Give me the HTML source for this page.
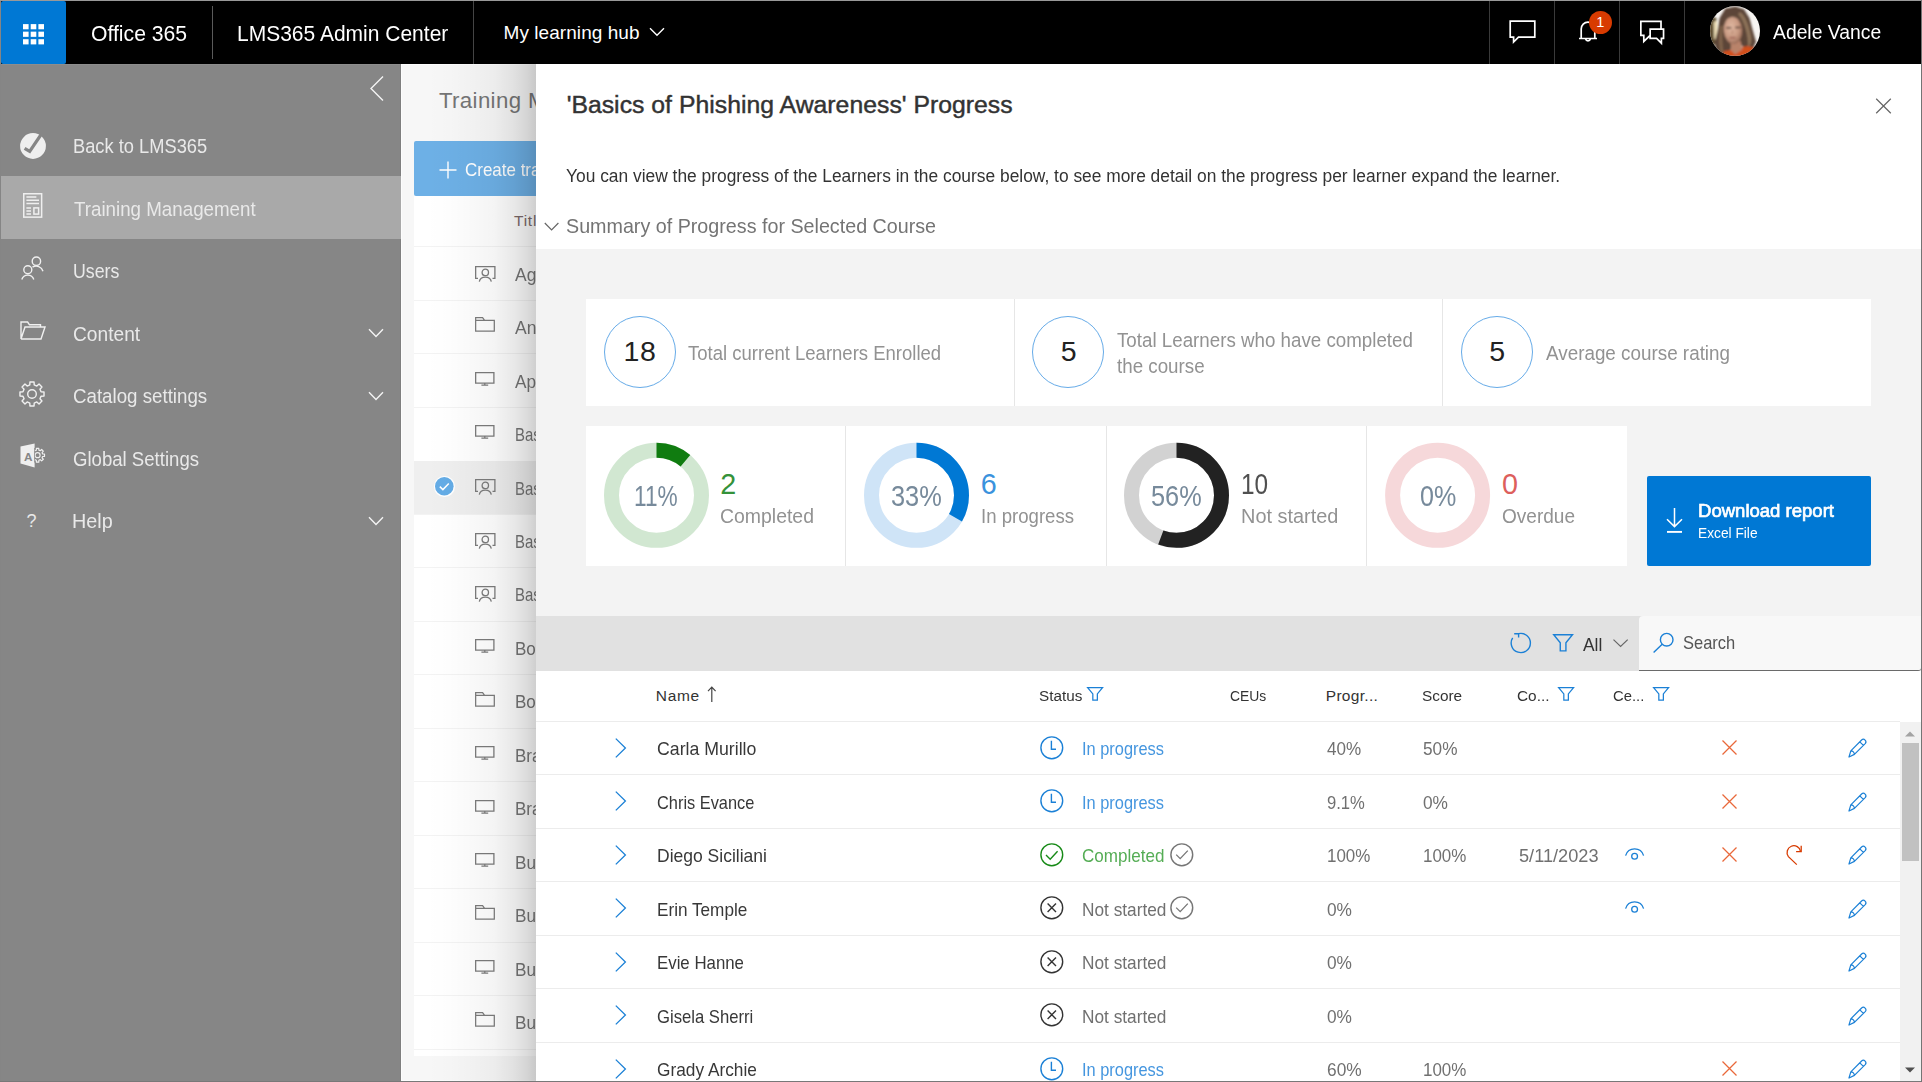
<!DOCTYPE html>
<html lang="en"><head><meta charset="utf-8"><title>LMS365 Admin Center - Course Progress</title>
<style>
html,body{margin:0;padding:0}
body{width:1922px;height:1082px;position:relative;overflow:hidden;background:#8a8a8a;font-family:"Liberation Sans",sans-serif;}
.t{position:absolute;white-space:nowrap;line-height:1;transform-origin:0 0;}
.grp{position:absolute;left:0;top:0;}
svg{overflow:visible}

</style></head>
<body>
<div style="position:absolute;left:0px;top:0px;width:1922px;height:1px;background:#999;"></div>
<div style="position:absolute;left:0px;top:1081px;width:1922px;height:1px;background:#787878;"></div>
<div style="position:absolute;left:1921px;top:0px;width:1px;height:1082px;background:#747474;"></div>
<div style="position:absolute;left:0px;top:1px;width:1px;height:1080px;background:#858585;"></div>
<header class="grp" style="z-index:10">
<div style="position:absolute;left:1px;top:1px;width:1920px;height:63px;background:#000;"></div>
<div style="position:absolute;left:1px;top:1px;width:65px;height:63px;background:#0078d4;border-radius:2px;"></div>
<svg style="position:absolute;left:0px;top:0px;" width="66" height="64" viewBox="0 0 66 64" fill="none"><rect x="23.00" y="24.10" width="5.6" height="5.2" fill="#fff"/><rect x="23.00" y="31.65" width="5.6" height="5.2" fill="#fff"/><rect x="23.00" y="39.20" width="5.6" height="5.2" fill="#fff"/><rect x="30.70" y="24.10" width="5.6" height="5.2" fill="#fff"/><rect x="30.70" y="31.65" width="5.6" height="5.2" fill="#fff"/><rect x="30.70" y="39.20" width="5.6" height="5.2" fill="#fff"/><rect x="38.40" y="24.10" width="5.6" height="5.2" fill="#fff"/><rect x="38.40" y="31.65" width="5.6" height="5.2" fill="#fff"/><rect x="38.40" y="39.20" width="5.6" height="5.2" fill="#fff"/></svg>
<span class="t" style="left:90.63px;top:23.00px;font-size:21.75px;color:#fff;transform:scaleX(0.9732);">Office 365</span>
<div style="position:absolute;left:212px;top:6px;width:1px;height:53px;background:#5a5a5a;"></div>
<span class="t" style="left:237.01px;top:23.00px;font-size:21.75px;color:#fff;transform:scaleX(0.9656);">LMS365 Admin Center</span>
<div style="position:absolute;left:473px;top:1px;width:1px;height:63px;background:#444;"></div>
<span class="t" style="left:503.50px;top:23.00px;font-size:19.0px;color:#fff;letter-spacing:0.061px;">My learning hub</span>
<svg style="position:absolute;left:648.8px;top:26px;" width="16" height="12" viewBox="0 0 16 12" fill="none"><path d="M1 2.3 L8 9.3 L15 2.3" stroke="#fff" stroke-width="1.4"/></svg>
<div style="position:absolute;left:1489px;top:1px;width:1px;height:63px;background:#3a3a3a;"></div>
<div style="position:absolute;left:1554px;top:1px;width:1px;height:63px;background:#3a3a3a;"></div>
<div style="position:absolute;left:1619px;top:1px;width:1px;height:63px;background:#3a3a3a;"></div>
<div style="position:absolute;left:1684px;top:1px;width:1px;height:63px;background:#3a3a3a;"></div>
<svg style="position:absolute;left:1509px;top:20px;" width="27" height="24" viewBox="0 0 27 24" fill="none"><path d="M1.2 1.2 H25.8 V17.2 H9.5 L4.6 22 V17.2 H1.2 Z" stroke="#fff" stroke-width="1.7" stroke-linejoin="miter"/></svg>
<svg style="position:absolute;left:1577px;top:19px;" width="22" height="25" viewBox="0 0 22 25" fill="none"><path d="M2 19.5 H20 M4.2 19.5 V10 a6.8 6.8 0 0 1 13.6 0 V19.5 M8.6 20 a2.5 2.5 0 0 0 4.8 0" stroke="#fff" stroke-width="1.7"/></svg>
<div style="position:absolute;left:1588.5px;top:11px;width:23px;height:23px;border-radius:50%;background:#d83b01"></div>
<span class="t" style="left:1596.30px;top:15.00px;font-size:14.5px;color:#fff;">1</span>
<svg style="position:absolute;left:1639px;top:20px;" width="28" height="24" viewBox="0 0 28 24" fill="none"><path d="M22 8.6 V1.35 H1.85 V15.3 H4.8 V21.4 L10.6 15.8 M11.15 9.15 H24.55 V18.35 H22.4 V23.2 L17.6 18.35 H11.15 Z" stroke="#fff" stroke-width="1.7"/></svg>
<svg style="position:absolute;left:1710.1px;top:6px;" width="50" height="50" viewBox="0 0 50 50" fill="none"><defs><clipPath id="avc"><circle cx="25" cy="25" r="25"/></clipPath><filter id="avb" x="-10%" y="-10%" width="120%" height="120%"><feGaussianBlur stdDeviation="1.0"/></filter><radialGradient id="avf" cx="42%" cy="38%" r="62%"><stop offset="0" stop-color="#e0b8a2"/><stop offset="0.65" stop-color="#c99a82"/><stop offset="1" stop-color="#9c6e5a"/></radialGradient></defs><g clip-path="url(#avc)"><rect width="50" height="50" fill="#f7f5f2"/><g filter="url(#avb)"><path d="M-1 10 L6.5 12 L7 38 L-1 40Z" fill="#5f5030"/><path d="M3.6 16 L7 14.5 L7.6 35 L4.2 33Z" fill="#e9dab2"/><path d="M15.3 2.4 L25.3 0.4 L34 3.3 L39.4 12 L42.6 23.8 L46 35.7 L43.1 42.4 L36 42.6 L31.2 39.2 L21 42 L19 50 L9 50 L5.4 42 L4.8 35.7 L7.8 23.8 L9.6 12Z" fill="#5b4537"/><path d="M30 6 C36 10 39 20 41 30 C42 36 40.5 40 38 41 C38.5 30 34 14 28 8Z" fill="#8d7259"/><path d="M10 20 C9 30 8.4 38 10.4 46 L13.6 47 C12 38 12 28 13 20Z" fill="#80634b"/><path d="M14 45 L22 44 L30 41.6 L38 40 L45 42 L41 51 L12 51Z" fill="#d1501f"/><path d="M20.5 35 L30.6 35 L32.4 43.4 L25 48.6 L21 44Z" fill="#b9836b"/><ellipse cx="23" cy="24.4" rx="9.2" ry="13.8" fill="url(#avf)" transform="rotate(-4 23 24.4)"/><path d="M13 18 C13.5 8.6 22 7 28 9.6 C31 11.6 33 15.6 33.4 21.4 C31 14.6 27 11 23 11 C18 11 15 13.4 13 18Z" fill="#614a3b"/><path d="M16.2 21.8 h5.2 M25.2 21.5 h5.2" stroke="#4e382e" stroke-width="1.5"/><path d="M19.6 31.6 h5.8" stroke="#95544c" stroke-width="1.4"/><path d="M22.6 24 L22 28.2" stroke="#b07f6a" stroke-width="1"/></g></g></svg>
<span class="t" style="left:1772.90px;top:22.00px;font-size:20.5px;color:#fff;transform:scaleX(0.9424);">Adele Vance</span>
</header>
<nav class="grp">
<div style="position:absolute;left:1px;top:64px;width:400px;height:1017px;background:#868686;"></div>
<div style="position:absolute;left:1px;top:64px;width:400px;height:1px;background:#8d8d8d;"></div>
<div style="position:absolute;left:400px;top:64px;width:1px;height:1017px;background:#7f7f7f;"></div>
<div style="position:absolute;left:1px;top:176px;width:400px;height:63px;background:#a9a9a9;"></div>
<svg style="position:absolute;left:369px;top:75px;" width="16" height="27" viewBox="0 0 16 27" fill="none"><path d="M14 1.5 L2 13.5 L14 25.5" stroke="#f4f4f4" stroke-width="1.4"/></svg>
<span class="t" style="left:72.54px;top:136.00px;font-size:20.5px;color:#e9e9e9;transform:scaleX(0.8920);">Back to LMS365</span>
<span class="t" style="left:73.64px;top:199.00px;font-size:20.5px;color:#e9e9e9;transform:scaleX(0.9146);">Training Management</span>
<span class="t" style="left:72.80px;top:261.00px;font-size:20.5px;color:#e9e9e9;transform:scaleX(0.8663);">Users</span>
<span class="t" style="left:73.17px;top:324.00px;font-size:20.5px;color:#e9e9e9;transform:scaleX(0.9348);">Content</span>
<span class="t" style="left:73.19px;top:386.00px;font-size:20.5px;color:#e9e9e9;transform:scaleX(0.9129);">Catalog settings</span>
<span class="t" style="left:73.19px;top:449.00px;font-size:20.5px;color:#e9e9e9;transform:scaleX(0.9064);">Global Settings</span>
<span class="t" style="left:72.41px;top:511.00px;font-size:20.5px;color:#e9e9e9;transform:scaleX(0.9646);">Help</span>
<svg style="position:absolute;left:367.5px;top:327.7px;" width="16" height="10" viewBox="0 0 16 10" fill="none"><path d="M1 1.2 L8 8.4 L15 1.2" stroke="#f4f4f4" stroke-width="1.4"/></svg>
<svg style="position:absolute;left:367.5px;top:390.5px;" width="16" height="10" viewBox="0 0 16 10" fill="none"><path d="M1 1.2 L8 8.4 L15 1.2" stroke="#f4f4f4" stroke-width="1.4"/></svg>
<svg style="position:absolute;left:367.5px;top:515.8px;" width="16" height="10" viewBox="0 0 16 10" fill="none"><path d="M1 1.2 L8 8.4 L15 1.2" stroke="#f4f4f4" stroke-width="1.4"/></svg>
<svg style="position:absolute;left:19.5px;top:133px;" width="26" height="26" viewBox="0 0 26 26" fill="none"><circle cx="13" cy="13" r="12.9" fill="#efefef"/><path d="M4.6 15.4 L9.7 18.4 L21.2 1.4" stroke="#868686" stroke-width="3.3" stroke-linejoin="miter"/></svg>
<svg style="position:absolute;left:22.7px;top:193.2px;" width="19.4" height="24.9" viewBox="0 0 19.4 24.9" fill="none"><rect x="0.75" y="0.75" width="17.9" height="23.4" stroke="#efefef" stroke-width="1.5"/><path d="M3.4 3.9H13.4M3.4 7.2H16M3.4 10.5H16M3.4 14.9H8M3.4 18H8M3.4 21H8" stroke="#efefef" stroke-width="1.5"/><rect x="10.9" y="14.9" width="4.7" height="6.2" stroke="#efefef" stroke-width="1.5"/></svg>
<svg style="position:absolute;left:21px;top:256px;" width="23" height="24" viewBox="0 0 23 24" fill="none"><circle cx="15.4" cy="5.2" r="4.2" stroke="#f0f0f0" stroke-width="1.4"/><circle cx="6.8" cy="13.8" r="4" stroke="#f0f0f0" stroke-width="1.4"/><path d="M0.8 23.5 a6.3 6.3 0 0 1 12 0 M11.5 11.2 a7 7 0 0 1 10.5 4" stroke="#f0f0f0" stroke-width="1.4"/></svg>
<svg style="position:absolute;left:19.5px;top:321px;" width="26" height="19" viewBox="0 0 26 19" fill="none"><path d="M20.5 6 V3.8 H9.5 L7.6 1 H1 V18 L5 6 H25 L21 18 H1" stroke="#f0f0f0" stroke-width="1.4" stroke-linejoin="miter"/></svg>
<svg style="position:absolute;left:19.4px;top:380.5px;" width="26" height="26" viewBox="0 0 26 26" fill="none"><path d="M10.94 0.98 L15.06 0.98 L15.21 3.97 L17.82 5.05 L20.04 3.04 L22.96 5.96 L20.95 8.18 L22.03 10.79 L25.02 10.94 L25.02 15.06 L22.03 15.21 L20.95 17.82 L22.96 20.04 L20.04 22.96 L17.82 20.95 L15.21 22.03 L15.06 25.02 L10.94 25.02 L10.79 22.03 L8.18 20.95 L5.96 22.96 L3.04 20.04 L5.05 17.82 L3.97 15.21 L0.98 15.06 L0.98 10.94 L3.97 10.79 L5.05 8.18 L3.04 5.96 L5.96 3.04 L8.18 5.05 L10.79 3.97Z" stroke="#f0f0f0" stroke-width="1.4" stroke-linejoin="round"/><circle cx="13" cy="13" r="4.3" stroke="#f0f0f0" stroke-width="1.4"/></svg>
<svg style="position:absolute;left:20px;top:443px;" width="26" height="25" viewBox="0 0 26 25" fill="none"><path d="M16.42 5.30 L18.78 5.30 L18.89 7.16 L20.25 7.73 L21.64 6.48 L23.32 8.16 L22.07 9.55 L22.64 10.91 L24.50 11.02 L24.50 13.38 L22.64 13.49 L22.07 14.85 L23.32 16.24 L21.64 17.92 L20.25 16.67 L18.89 17.24 L18.78 19.10 L16.42 19.10 L16.31 17.24 L14.95 16.67 L13.56 17.92 L11.88 16.24 L13.13 14.85 L12.56 13.49 L10.70 13.38 L10.70 11.02 L12.56 10.91 L13.13 9.55 L11.88 8.16 L13.56 6.48 L14.95 7.73 L16.31 7.16Z" stroke="#efefef" stroke-width="1.2" stroke-linejoin="round"/><circle cx="17.6" cy="12.2" r="2.5" stroke="#efefef" stroke-width="1.2"/><path d="M0.5 3.6 L14.6 0.4 V24.6 L0.5 20.6Z" fill="#efefef"/><path d="M14.6 5 V19.5" stroke="#868686" stroke-width="0.8"/></svg>
<span class="t" style="left:23.95px;top:451.00px;font-size:11.75px;color:#868686;font-weight:700;">A</span>
<span class="t" style="left:26.45px;top:512.00px;font-size:18.0px;color:#e9e9e9;">?</span>
</nav>
<section class="grp">
<div style="position:absolute;left:401px;top:64px;width:159px;height:1017px;background:#f7f7f7;"></div>
<div style="position:absolute;left:401px;top:64px;width:1px;height:1017px;background:#fdfdfd;"></div>
<div style="position:absolute;left:401px;top:64px;width:159px;height:1px;background:#fdfdfd;"></div>
<div style="position:absolute;left:401px;top:1080px;width:159px;height:1px;background:#fdfdfd;"></div>
<span class="t" style="left:439.00px;top:90.00px;font-size:22.25px;color:#757575;letter-spacing:0.350px;">Training Management</span>
<div style="position:absolute;left:414px;top:141px;width:486px;height:55px;background:#6db0e6;border-radius:2px;"></div>
<svg style="position:absolute;left:439px;top:161px;" width="18" height="18" viewBox="0 0 18 18" fill="none"><path d="M9 0.5 V17.5 M0.5 9 H17.5" stroke="#fff" stroke-width="1.4"/></svg>
<span class="t" style="left:465.18px;top:161.00px;font-size:18.5px;color:#fff;transform:scaleX(0.9172);">Create training</span>
<div style="position:absolute;left:414px;top:196px;width:486px;height:860px;background:#fff;"></div>
<span class="t" style="left:514.05px;top:213.00px;font-size:15.5px;color:#7c6a6a;letter-spacing:0.733px;">Title</span>
<div style="position:absolute;left:414px;top:246.0px;width:486px;height:1.0px;background:#f3f3f3;"></div>
<svg style="position:absolute;left:474.5px;top:265.5px;" width="21" height="16" viewBox="0 0 21 16" fill="none"><path d="M3 12.3 H0.65 V0.65 H19.9 V12.3 H17.5" stroke="#7c7c7c" stroke-width="1.3"/><circle cx="10.3" cy="6.4" r="3.2" stroke="#7c7c7c" stroke-width="1.3"/><path d="M4.3 15.6 A6.1 5.4 0 0 1 16.3 15.6" stroke="#7c7c7c" stroke-width="1.3"/></svg>
<span class="t" style="left:514.80px;top:266.00px;font-size:18.25px;color:#767676;transform:scaleX(0.9553);">Agile Project Management</span>
<div style="position:absolute;left:414px;top:299.5px;width:486px;height:1.0px;background:#f3f3f3;"></div>
<svg style="position:absolute;left:474.5px;top:317.34999999999997px;" width="21" height="15" viewBox="0 0 21 15" fill="none"><path d="M0.65 14 V0.65 H7.6 L9.6 3.3 H19.3 V14 Z M0.65 3.3 H9.6" stroke="#7c7c7c" stroke-width="1.25" stroke-linejoin="miter"/></svg>
<span class="t" style="left:514.80px;top:319.00px;font-size:18.25px;color:#767676;transform:scaleX(0.9600);">Annual Compliance</span>
<div style="position:absolute;left:414px;top:353.0px;width:486px;height:1.0px;background:#f3f3f3;"></div>
<svg style="position:absolute;left:474.5px;top:371.99999999999994px;" width="20" height="14" viewBox="0 0 20 14" fill="none"><path d="M0.65 0.65 H18.9 V11.2 H0.65 Z M9.8 11.2 V13 M6.4 13.2 H13.2" stroke="#7c7c7c" stroke-width="1.3"/></svg>
<span class="t" style="left:514.80px;top:373.00px;font-size:18.25px;color:#767676;transform:scaleX(0.9425);">Application Security</span>
<div style="position:absolute;left:414px;top:406.5px;width:486px;height:1.0px;background:#f3f3f3;"></div>
<svg style="position:absolute;left:474.5px;top:425.45px;" width="20" height="14" viewBox="0 0 20 14" fill="none"><path d="M0.65 0.65 H18.9 V11.2 H0.65 Z M9.8 11.2 V13 M6.4 13.2 H13.2" stroke="#7c7c7c" stroke-width="1.3"/></svg>
<span class="t" style="left:514.77px;top:426.00px;font-size:18.25px;color:#767676;transform:scaleX(0.8190);">Basic Data Privacy</span>
<div style="position:absolute;left:414px;top:460.5px;width:486px;height:54.0px;background:#efefef;"></div>
<svg style="position:absolute;left:474.5px;top:479.3px;" width="21" height="16" viewBox="0 0 21 16" fill="none"><path d="M3 12.3 H0.65 V0.65 H19.9 V12.3 H17.5" stroke="#7c7c7c" stroke-width="1.3"/><circle cx="10.3" cy="6.4" r="3.2" stroke="#7c7c7c" stroke-width="1.3"/><path d="M4.3 15.6 A6.1 5.4 0 0 1 16.3 15.6" stroke="#7c7c7c" stroke-width="1.3"/></svg>
<span class="t" style="left:514.77px;top:480.00px;font-size:18.25px;color:#767676;transform:scaleX(0.8190);">Basics of Phishing Awareness</span>
<div style="position:absolute;left:414px;top:513.5px;width:486px;height:1.0px;background:#f3f3f3;"></div>
<svg style="position:absolute;left:474.5px;top:532.75px;" width="21" height="16" viewBox="0 0 21 16" fill="none"><path d="M3 12.3 H0.65 V0.65 H19.9 V12.3 H17.5" stroke="#7c7c7c" stroke-width="1.3"/><circle cx="10.3" cy="6.4" r="3.2" stroke="#7c7c7c" stroke-width="1.3"/><path d="M4.3 15.6 A6.1 5.4 0 0 1 16.3 15.6" stroke="#7c7c7c" stroke-width="1.3"/></svg>
<span class="t" style="left:514.77px;top:533.00px;font-size:18.25px;color:#767676;transform:scaleX(0.8190);">Basics of Phishing (ILT)</span>
<div style="position:absolute;left:414px;top:567.0px;width:486px;height:1.0px;background:#f3f3f3;"></div>
<svg style="position:absolute;left:474.5px;top:586.2px;" width="21" height="16" viewBox="0 0 21 16" fill="none"><path d="M3 12.3 H0.65 V0.65 H19.9 V12.3 H17.5" stroke="#7c7c7c" stroke-width="1.3"/><circle cx="10.3" cy="6.4" r="3.2" stroke="#7c7c7c" stroke-width="1.3"/><path d="M4.3 15.6 A6.1 5.4 0 0 1 16.3 15.6" stroke="#7c7c7c" stroke-width="1.3"/></svg>
<span class="t" style="left:514.77px;top:586.00px;font-size:18.25px;color:#767676;transform:scaleX(0.8190);">Basics of Workshop</span>
<div style="position:absolute;left:414px;top:620.5px;width:486px;height:1.0px;background:#f3f3f3;"></div>
<svg style="position:absolute;left:474.5px;top:639.25px;" width="20" height="14" viewBox="0 0 20 14" fill="none"><path d="M0.65 0.65 H18.9 V11.2 H0.65 Z M9.8 11.2 V13 M6.4 13.2 H13.2" stroke="#7c7c7c" stroke-width="1.3"/></svg>
<span class="t" style="left:514.60px;top:640.00px;font-size:18.25px;color:#767676;transform:scaleX(0.9333);">Bootcamp Essentials</span>
<div style="position:absolute;left:414px;top:674.0px;width:486px;height:1.0px;background:#f3f3f3;"></div>
<svg style="position:absolute;left:474.5px;top:691.5px;" width="21" height="15" viewBox="0 0 21 15" fill="none"><path d="M0.65 14 V0.65 H7.6 L9.6 3.3 H19.3 V14 Z M0.65 3.3 H9.6" stroke="#7c7c7c" stroke-width="1.25" stroke-linejoin="miter"/></svg>
<span class="t" style="left:514.60px;top:693.00px;font-size:18.25px;color:#767676;transform:scaleX(0.9333);">Bookkeeping Plan</span>
<div style="position:absolute;left:414px;top:727.5px;width:486px;height:1.0px;background:#f3f3f3;"></div>
<svg style="position:absolute;left:474.5px;top:746.1500000000001px;" width="20" height="14" viewBox="0 0 20 14" fill="none"><path d="M0.65 0.65 H18.9 V11.2 H0.65 Z M9.8 11.2 V13 M6.4 13.2 H13.2" stroke="#7c7c7c" stroke-width="1.3"/></svg>
<span class="t" style="left:514.60px;top:747.00px;font-size:18.25px;color:#767676;transform:scaleX(0.9333);">Brand Guidelines</span>
<div style="position:absolute;left:414px;top:781.0px;width:486px;height:1.0px;background:#f3f3f3;"></div>
<svg style="position:absolute;left:474.5px;top:799.6px;" width="20" height="14" viewBox="0 0 20 14" fill="none"><path d="M0.65 0.65 H18.9 V11.2 H0.65 Z M9.8 11.2 V13 M6.4 13.2 H13.2" stroke="#7c7c7c" stroke-width="1.3"/></svg>
<span class="t" style="left:514.60px;top:800.00px;font-size:18.25px;color:#767676;transform:scaleX(0.9333);">Brand Voice</span>
<div style="position:absolute;left:414px;top:834.5px;width:486px;height:1.0px;background:#f3f3f3;"></div>
<svg style="position:absolute;left:474.5px;top:853.0500000000001px;" width="20" height="14" viewBox="0 0 20 14" fill="none"><path d="M0.65 0.65 H18.9 V11.2 H0.65 Z M9.8 11.2 V13 M6.4 13.2 H13.2" stroke="#7c7c7c" stroke-width="1.3"/></svg>
<span class="t" style="left:514.59px;top:854.00px;font-size:18.25px;color:#767676;transform:scaleX(0.9418);">Business Ethics</span>
<div style="position:absolute;left:414px;top:888.0px;width:486px;height:1.0px;background:#f3f3f3;"></div>
<svg style="position:absolute;left:474.5px;top:905.3000000000001px;" width="21" height="15" viewBox="0 0 21 15" fill="none"><path d="M0.65 14 V0.65 H7.6 L9.6 3.3 H19.3 V14 Z M0.65 3.3 H9.6" stroke="#7c7c7c" stroke-width="1.25" stroke-linejoin="miter"/></svg>
<span class="t" style="left:514.59px;top:907.00px;font-size:18.25px;color:#767676;transform:scaleX(0.9418);">Business Plan</span>
<div style="position:absolute;left:414px;top:941.5px;width:486px;height:1.0px;background:#f3f3f3;"></div>
<svg style="position:absolute;left:474.5px;top:959.95px;" width="20" height="14" viewBox="0 0 20 14" fill="none"><path d="M0.65 0.65 H18.9 V11.2 H0.65 Z M9.8 11.2 V13 M6.4 13.2 H13.2" stroke="#7c7c7c" stroke-width="1.3"/></svg>
<span class="t" style="left:514.59px;top:961.00px;font-size:18.25px;color:#767676;transform:scaleX(0.9418);">Business Writing</span>
<div style="position:absolute;left:414px;top:995.0px;width:486px;height:1.0px;background:#f3f3f3;"></div>
<svg style="position:absolute;left:474.5px;top:1012.2px;" width="21" height="15" viewBox="0 0 21 15" fill="none"><path d="M0.65 14 V0.65 H7.6 L9.6 3.3 H19.3 V14 Z M0.65 3.3 H9.6" stroke="#7c7c7c" stroke-width="1.25" stroke-linejoin="miter"/></svg>
<span class="t" style="left:514.59px;top:1014.00px;font-size:18.25px;color:#767676;transform:scaleX(0.9418);">Business Onboarding</span>
<div style="position:absolute;left:414px;top:1048.8px;width:486px;height:1.0px;background:#f3f3f3;"></div>
<div style="position:absolute;left:434.1px;top:476.4px;width:20.6px;height:20.6px;border-radius:50%;background:#fff"></div>
<svg style="position:absolute;left:435.1px;top:477.4px;" width="18.6" height="18.6" viewBox="0 0 18.6 18.6" fill="none"><circle cx="9.3" cy="9.3" r="9.3" fill="#64ace6"/><path d="M4.8 9.6 L7.9 12.6 L13.8 6.4" stroke="#fff" stroke-width="1.5"/></svg>
</section>
<section class="grp">
<div style="position:absolute;left:426px;top:64px;width:110px;height:1017px;background:linear-gradient(to right,rgba(0,0,0,0) 0%,rgba(0,0,0,.008) 20%,rgba(0,0,0,.022) 42%,rgba(0,0,0,.045) 62%,rgba(0,0,0,.09) 80%,rgba(0,0,0,.14) 92%,rgba(0,0,0,.19) 100%)"></div>
<div style="position:absolute;left:536px;top:64px;width:1385px;height:1017px;background:#fff"></div>
<span class="t" style="left:566.65px;top:93.00px;font-size:24.75px;color:#333;letter-spacing:0.024px;-webkit-text-stroke:0.45px #333;">&#x27;Basics of Phishing Awareness&#x27; Progress</span>
<svg style="position:absolute;left:1875px;top:98px;" width="17" height="16" viewBox="0 0 17 16" fill="none"><path d="M1.2 0.8 L15.8 15.2 M15.8 0.8 L1.2 15.2" stroke="#666" stroke-width="1.2"/></svg>
<span class="t" style="left:566.30px;top:168.00px;font-size:17.5px;color:#333;transform:scaleX(0.9928);">You can view the progress of the Learners in the course below, to see more detail on the progress per learner expand the learner.</span>
<svg style="position:absolute;left:544px;top:222px;" width="16" height="10" viewBox="0 0 16 10" fill="none"><path d="M0.8 1 L7.6 8 L14.4 1" stroke="#666" stroke-width="1.2"/></svg>
<span class="t" style="left:565.86px;top:215.00px;font-size:21.0px;color:#747474;transform:scaleX(0.9381);">Summary of Progress for Selected Course</span>
<div style="position:absolute;left:536px;top:248.5px;width:1385px;height:368.5px;background:#f3f3f3;"></div>
<div style="position:absolute;left:586px;top:299px;width:1285px;height:107px;background:#fff;"></div>
<div style="position:absolute;left:1014px;top:299px;width:1px;height:107px;background:#e6e6e6;"></div>
<div style="position:absolute;left:1442px;top:299px;width:1px;height:107px;background:#e6e6e6;"></div>
<div style="position:absolute;left:604px;top:316px;width:72px;height:72px;box-sizing:border-box;border-radius:50%;border:1.4px solid #66abe8"></div>
<span class="t" style="left:623.45px;top:337.00px;font-size:28.5px;color:#222;letter-spacing:0.650px;">18</span>
<div style="position:absolute;left:1032px;top:316px;width:72px;height:72px;box-sizing:border-box;border-radius:50%;border:1.4px solid #66abe8"></div>
<span class="t" style="left:1060.65px;top:337.00px;font-size:28.5px;color:#222;">5</span>
<div style="position:absolute;left:1461px;top:316px;width:72px;height:72px;box-sizing:border-box;border-radius:50%;border:1.4px solid #66abe8"></div>
<span class="t" style="left:1489.25px;top:337.00px;font-size:28.5px;color:#222;">5</span>
<span class="t" style="left:688.05px;top:343.00px;font-size:20.5px;color:#929292;transform:scaleX(0.9031);">Total current Learners Enrolled</span>
<span class="t" style="left:1117.04px;top:330.00px;font-size:20.5px;color:#929292;transform:scaleX(0.9144);">Total Learners who have completed</span>
<span class="t" style="left:1117.27px;top:356.00px;font-size:20.5px;color:#929292;transform:scaleX(0.9153);">the course</span>
<span class="t" style="left:1545.80px;top:343.00px;font-size:20.5px;color:#929292;transform:scaleX(0.9192);">Average course rating</span>
<div style="position:absolute;left:586px;top:426px;width:1041px;height:140px;background:#fff;"></div>
<div style="position:absolute;left:845px;top:426px;width:1px;height:140px;background:#e6e6e6;"></div>
<div style="position:absolute;left:1106px;top:426px;width:1px;height:140px;background:#e6e6e6;"></div>
<div style="position:absolute;left:1366px;top:426px;width:1px;height:140px;background:#e6e6e6;"></div>
<svg style="position:absolute;left:0px;top:0px;" width="1922" height="1082" viewBox="0 0 1922 1082" fill="none"><circle cx="656.5" cy="495.3" r="45" stroke="#d1e7d1" stroke-width="15"/><circle cx="656.5" cy="495.3" r="45" stroke="#107c10" stroke-width="15" stroke-dasharray="31.38 282.74" transform="rotate(-90 656.5 495.3)"/><circle cx="916.5" cy="495.3" r="45" stroke="#cfe4f7" stroke-width="15"/><circle cx="916.5" cy="495.3" r="45" stroke="#0078d4" stroke-width="15" stroke-dasharray="94.15 282.74" transform="rotate(-90 916.5 495.3)"/><circle cx="1176.5" cy="495.3" r="45" stroke="#d2d2d2" stroke-width="15"/><circle cx="1176.5" cy="495.3" r="45" stroke="#222" stroke-width="15" stroke-dasharray="157.21 282.74" transform="rotate(-90 1176.5 495.3)"/><circle cx="1437.6" cy="495.3" r="45" stroke="#f6d8da" stroke-width="15"/></svg>
<span class="t" style="left:634.23px;top:482.00px;font-size:28.75px;color:#778a9b;transform:scaleX(0.7885);">11%</span>
<span class="t" style="left:891.12px;top:482.00px;font-size:28.75px;color:#778a9b;transform:scaleX(0.8829);">33%</span>
<span class="t" style="left:1151.30px;top:482.00px;font-size:28.75px;color:#778a9b;transform:scaleX(0.8796);">56%</span>
<span class="t" style="left:1419.63px;top:482.00px;font-size:28.75px;color:#778a9b;transform:scaleX(0.8734);">0%</span>
<span class="t" style="left:720.20px;top:470.00px;font-size:28.75px;color:#35923a;">2</span>
<span class="t" style="left:720.35px;top:506.00px;font-size:20.5px;color:#929292;transform:scaleX(0.9478);">Completed</span>
<span class="t" style="left:980.70px;top:470.00px;font-size:28.75px;color:#3a92dd;">6</span>
<span class="t" style="left:980.91px;top:506.00px;font-size:20.5px;color:#929292;transform:scaleX(0.9070);">In progress</span>
<span class="t" style="left:1241.09px;top:470.00px;font-size:28.75px;color:#505050;transform:scaleX(0.8487);">10</span>
<span class="t" style="left:1240.70px;top:506.00px;font-size:20.5px;color:#929292;transform:scaleX(0.9711);">Not started</span>
<span class="t" style="left:1502.00px;top:470.00px;font-size:28.75px;color:#dd5f5c;">0</span>
<span class="t" style="left:1502.07px;top:506.00px;font-size:20.5px;color:#929292;transform:scaleX(0.9290);">Overdue</span>
<div style="position:absolute;left:1647px;top:476px;width:224px;height:90px;background:#0078d4;border-radius:2px;"></div>
<svg style="position:absolute;left:1665px;top:507px;" width="19" height="28" viewBox="0 0 19 28" fill="none"><path d="M9.5 1 V19.2 M2 12.2 L9.5 19.6 L17 12.2" stroke="#fff" stroke-width="1.5"/><path d="M2 24.9 H17" stroke="#fff" stroke-width="1.9"/></svg>
<span class="t" style="left:1697.74px;top:501.00px;font-size:19.0px;color:#fff;transform:scaleX(0.9754);-webkit-text-stroke:0.7px #fff;">Download report</span>
<span class="t" style="left:1698.09px;top:525.00px;font-size:15.5px;color:#fff;transform:scaleX(0.8858);">Excel File</span>
<div style="position:absolute;left:536px;top:616px;width:1385px;height:54.5px;background:#e1e1e1;"></div>
<div style="position:absolute;left:1639px;top:616px;width:282px;height:54.60000000000002px;background:#f8f8f8;border-radius:4px 0 3px 0;border-bottom:1.4px solid #6a6a6a;box-sizing:border-box;"></div>
<svg style="position:absolute;left:0px;top:0px;" width="1922" height="1082" viewBox="0 0 1922 1082" fill="none"><path d="M1518.48 633.69 A9.6 9.6 0 1 1 1512.66 637.91" stroke="#1b80d6" stroke-width="1.4"/><path d="M1514.2 633.7 H1518.6 V637.6" stroke="#1b80d6" stroke-width="1.4"/></svg>
<svg style="position:absolute;left:1552.8px;top:634.3px;" width="20.2" height="17.6" viewBox="0 0 20.2 17.6" fill="none"><path d="M0.7 0.7 H19.5 L12.93 8.80 V16.900000000000002 H7.27 V8.80 Z" stroke="#1b80d6" stroke-width="1.4" stroke-linejoin="miter"/></svg>
<span class="t" style="left:1583.20px;top:635.00px;font-size:19.0px;color:#333;transform:scaleX(0.9150);">All</span>
<svg style="position:absolute;left:1612.5px;top:638.5px;" width="16" height="9" viewBox="0 0 16 9" fill="none"><path d="M0.5 0.6 L7.6 7.4 L14.7 0.6" stroke="#666" stroke-width="1.2"/></svg>
<svg style="position:absolute;left:1652px;top:632px;" width="22" height="22" viewBox="0 0 22 22" fill="none"><circle cx="14.7" cy="7.7" r="6.3" stroke="#1b80d6" stroke-width="1.4"/><path d="M10.2 12.2 L1.6 20.6" stroke="#1b80d6" stroke-width="1.4"/></svg>
<span class="t" style="left:1683.33px;top:634.00px;font-size:18.5px;color:#555;transform:scaleX(0.8920);">Search</span>
<span class="t" style="left:655.75px;top:688.00px;font-size:15.5px;color:#333;letter-spacing:0.700px;">Name</span>
<svg style="position:absolute;left:707px;top:686px;" width="10" height="17" viewBox="0 0 10 17" fill="none"><path d="M4.8 16 V1.4 M1 5.2 L4.8 1.2 L8.6 5.2" stroke="#444" stroke-width="1.2"/></svg>
<span class="t" style="left:1038.66px;top:688.00px;font-size:15.5px;color:#333;transform:scaleX(0.9848);">Status</span>
<svg style="position:absolute;left:1087.1px;top:687px;" width="16.2" height="13.8" viewBox="0 0 16.2 13.8" fill="none"><path d="M0.625 0.625 H15.575 L10.37 6.90 V13.175 H5.83 V6.90 Z" stroke="#1b80d6" stroke-width="1.25" stroke-linejoin="miter"/></svg>
<span class="t" style="left:1230.33px;top:688.00px;font-size:15.5px;color:#333;transform:scaleX(0.8968);">CEUs</span>
<span class="t" style="left:1325.75px;top:688.00px;font-size:15.5px;color:#333;letter-spacing:0.300px;">Progr...</span>
<span class="t" style="left:1421.76px;top:688.00px;font-size:15.5px;color:#333;transform:scaleX(0.9923);">Score</span>
<span class="t" style="left:1517.06px;top:688.00px;font-size:15.5px;color:#333;transform:scaleX(0.9919);">Co...</span>
<svg style="position:absolute;left:1557.6px;top:687px;" width="16.2" height="13.8" viewBox="0 0 16.2 13.8" fill="none"><path d="M0.625 0.625 H15.575 L10.37 6.90 V13.175 H5.83 V6.90 Z" stroke="#1b80d6" stroke-width="1.25" stroke-linejoin="miter"/></svg>
<span class="t" style="left:1612.78px;top:688.00px;font-size:15.5px;color:#333;transform:scaleX(0.9561);">Ce...</span>
<svg style="position:absolute;left:1653.2px;top:687px;" width="16.2" height="13.8" viewBox="0 0 16.2 13.8" fill="none"><path d="M0.625 0.625 H15.575 L10.37 6.90 V13.175 H5.83 V6.90 Z" stroke="#1b80d6" stroke-width="1.25" stroke-linejoin="miter"/></svg>
<div style="position:absolute;left:536px;top:720.5px;width:1364px;height:1.0px;background:#ececec;"></div>
<svg style="position:absolute;left:615.4px;top:737.7px;" width="12" height="20" viewBox="0 0 12 20" fill="none"><path d="M0.8 0.6 L10.4 10 L0.8 19.4" stroke="#1b80d6" stroke-width="1.3"/></svg>
<span class="t" style="left:657.04px;top:740.00px;font-size:18.5px;color:#383838;transform:scaleX(0.9569);">Carla Murillo</span>
<svg style="position:absolute;left:1039.7px;top:735.9000000000001px;" width="23.6" height="23.6" viewBox="0 0 23.6 23.6" fill="none"><circle cx="11.8" cy="11.8" r="10.9" stroke="#1b80d6" stroke-width="1.4"/><path d="M11.4 4.8 V13.2 H16" stroke="#1b80d6" stroke-width="1.4"/></svg>
<span class="t" style="left:1081.85px;top:740.00px;font-size:18.5px;color:#4596df;transform:scaleX(0.8856);">In progress</span>
<span class="t" style="left:1327.24px;top:740.00px;font-size:18.5px;color:#707070;transform:scaleX(0.9231);">40%</span>
<span class="t" style="left:1422.80px;top:740.00px;font-size:18.5px;color:#707070;transform:scaleX(0.9296);">50%</span>
<svg style="position:absolute;left:1722.2px;top:740.1px;" width="15" height="15" viewBox="0 0 15 15" fill="none"><path d="M0.5 0.5 L14.5 14.5 M14.5 0.5 L0.5 14.5" stroke="#e9683a" stroke-width="1.25"/></svg>
<svg style="position:absolute;left:1848px;top:738.1px;" width="20" height="20" viewBox="0 0 20 20" fill="none"><path d="M1 19 L2.8 12.8 L13.6 2 A2.55 2.55 0 0 1 17.2 5.6 L6.4 16.4 Z M2.8 12.8 A3.5 3.5 0 0 1 6.4 16.4 M11.8 3.8 L15.4 7.4" stroke="#1b80d6" stroke-width="1.2" stroke-linejoin="round"/></svg>
<div style="position:absolute;left:536px;top:774.0px;width:1364px;height:1.0px;background:#ececec;"></div>
<svg style="position:absolute;left:615.4px;top:791.2px;" width="12" height="20" viewBox="0 0 12 20" fill="none"><path d="M0.8 0.6 L10.4 10 L0.8 19.4" stroke="#1b80d6" stroke-width="1.3"/></svg>
<span class="t" style="left:657.12px;top:794.00px;font-size:18.5px;color:#383838;transform:scaleX(0.8850);">Chris Evance</span>
<svg style="position:absolute;left:1039.7px;top:789.4000000000001px;" width="23.6" height="23.6" viewBox="0 0 23.6 23.6" fill="none"><circle cx="11.8" cy="11.8" r="10.9" stroke="#1b80d6" stroke-width="1.4"/><path d="M11.4 4.8 V13.2 H16" stroke="#1b80d6" stroke-width="1.4"/></svg>
<span class="t" style="left:1081.85px;top:794.00px;font-size:18.5px;color:#4596df;transform:scaleX(0.8856);">In progress</span>
<span class="t" style="left:1327.03px;top:794.00px;font-size:18.5px;color:#707070;transform:scaleX(0.8982);">9.1%</span>
<span class="t" style="left:1422.80px;top:794.00px;font-size:18.5px;color:#707070;transform:scaleX(0.9347);">0%</span>
<svg style="position:absolute;left:1722.2px;top:793.6px;" width="15" height="15" viewBox="0 0 15 15" fill="none"><path d="M0.5 0.5 L14.5 14.5 M14.5 0.5 L0.5 14.5" stroke="#e9683a" stroke-width="1.25"/></svg>
<svg style="position:absolute;left:1848px;top:791.6px;" width="20" height="20" viewBox="0 0 20 20" fill="none"><path d="M1 19 L2.8 12.8 L13.6 2 A2.55 2.55 0 0 1 17.2 5.6 L6.4 16.4 Z M2.8 12.8 A3.5 3.5 0 0 1 6.4 16.4 M11.8 3.8 L15.4 7.4" stroke="#1b80d6" stroke-width="1.2" stroke-linejoin="round"/></svg>
<div style="position:absolute;left:536px;top:827.5px;width:1364px;height:1.0px;background:#ececec;"></div>
<svg style="position:absolute;left:615.4px;top:844.7px;" width="12" height="20" viewBox="0 0 12 20" fill="none"><path d="M0.8 0.6 L10.4 10 L0.8 19.4" stroke="#1b80d6" stroke-width="1.3"/></svg>
<span class="t" style="left:656.58px;top:847.00px;font-size:18.5px;color:#383838;transform:scaleX(0.9463);">Diego Siciliani</span>
<svg style="position:absolute;left:1039.7px;top:842.9000000000001px;" width="23.6" height="23.6" viewBox="0 0 23.6 23.6" fill="none"><circle cx="11.8" cy="11.8" r="10.9" stroke="#178a17" stroke-width="1.4"/><path d="M6 12 L10.2 16.2 L17.6 8.2" stroke="#178a17" stroke-width="1.4"/></svg>
<span class="t" style="left:1081.68px;top:847.00px;font-size:18.5px;color:#55ad55;transform:scaleX(0.9215);">Completed</span>
<svg style="position:absolute;left:1169.6px;top:842.7px;" width="23.6" height="23.6" viewBox="0 0 23.6 23.6" fill="none"><circle cx="11.8" cy="11.8" r="10.9" stroke="#767676" stroke-width="1.45"/><path d="M6.2 11.6 L10.2 15.6 L17.8 7.6" stroke="#767676" stroke-width="1.3"/></svg>
<span class="t" style="left:1327.03px;top:847.00px;font-size:18.5px;color:#707070;transform:scaleX(0.9156);">100%</span>
<span class="t" style="left:1423.03px;top:847.00px;font-size:18.5px;color:#707070;transform:scaleX(0.9156);">100%</span>
<span class="t" style="left:1518.66px;top:847.00px;font-size:18.5px;color:#707070;transform:scaleX(0.9824);">5/11/2023</span>
<svg style="position:absolute;left:1625px;top:846.5px;" width="20" height="14" viewBox="0 0 20 14" fill="none"><path d="M0.6 8.6 A9.4 9.4 0 0 1 18.6 8.6" stroke="#1b80d6" stroke-width="1.3"/><circle cx="9.6" cy="9.2" r="2.9" stroke="#1b80d6" stroke-width="1.3"/></svg>
<svg style="position:absolute;left:1722.2px;top:847.1px;" width="15" height="15" viewBox="0 0 15 15" fill="none"><path d="M0.5 0.5 L14.5 14.5 M14.5 0.5 L0.5 14.5" stroke="#e9683a" stroke-width="1.25"/></svg>
<svg style="position:absolute;left:1785px;top:843.7px;" width="18" height="22" viewBox="0 0 18 22" fill="none"><path d="M11.8 20.6 L3.4 12.6 A6.8 6.8 0 1 1 15.6 7.6" stroke="#d83b01" stroke-width="1.3"/><path d="M11.1 7.6 H16.2 V1.8" stroke="#d83b01" stroke-width="1.3"/></svg>
<svg style="position:absolute;left:1848px;top:845.1px;" width="20" height="20" viewBox="0 0 20 20" fill="none"><path d="M1 19 L2.8 12.8 L13.6 2 A2.55 2.55 0 0 1 17.2 5.6 L6.4 16.4 Z M2.8 12.8 A3.5 3.5 0 0 1 6.4 16.4 M11.8 3.8 L15.4 7.4" stroke="#1b80d6" stroke-width="1.2" stroke-linejoin="round"/></svg>
<div style="position:absolute;left:536px;top:881.0px;width:1364px;height:1.0px;background:#ececec;"></div>
<svg style="position:absolute;left:615.4px;top:898.2px;" width="12" height="20" viewBox="0 0 12 20" fill="none"><path d="M0.8 0.6 L10.4 10 L0.8 19.4" stroke="#1b80d6" stroke-width="1.3"/></svg>
<span class="t" style="left:656.61px;top:901.00px;font-size:18.5px;color:#383838;transform:scaleX(0.9274);">Erin Temple</span>
<svg style="position:absolute;left:1039.7px;top:896.4000000000001px;" width="23.6" height="23.6" viewBox="0 0 23.6 23.6" fill="none"><circle cx="11.8" cy="11.8" r="10.9" stroke="#333" stroke-width="1.4"/><path d="M7.6 7.6 L16 16 M16 7.6 L7.6 16" stroke="#333" stroke-width="1.4"/></svg>
<span class="t" style="left:1082.20px;top:901.00px;font-size:18.5px;color:#707070;transform:scaleX(0.9322);">Not started</span>
<svg style="position:absolute;left:1169.6px;top:896.2px;" width="23.6" height="23.6" viewBox="0 0 23.6 23.6" fill="none"><circle cx="11.8" cy="11.8" r="10.9" stroke="#767676" stroke-width="1.45"/><path d="M6.2 11.6 L10.2 15.6 L17.8 7.6" stroke="#767676" stroke-width="1.3"/></svg>
<span class="t" style="left:1327.00px;top:901.00px;font-size:18.5px;color:#707070;transform:scaleX(0.9347);">0%</span>
<svg style="position:absolute;left:1625px;top:900.0px;" width="20" height="14" viewBox="0 0 20 14" fill="none"><path d="M0.6 8.6 A9.4 9.4 0 0 1 18.6 8.6" stroke="#1b80d6" stroke-width="1.3"/><circle cx="9.6" cy="9.2" r="2.9" stroke="#1b80d6" stroke-width="1.3"/></svg>
<svg style="position:absolute;left:1848px;top:898.6px;" width="20" height="20" viewBox="0 0 20 20" fill="none"><path d="M1 19 L2.8 12.8 L13.6 2 A2.55 2.55 0 0 1 17.2 5.6 L6.4 16.4 Z M2.8 12.8 A3.5 3.5 0 0 1 6.4 16.4 M11.8 3.8 L15.4 7.4" stroke="#1b80d6" stroke-width="1.2" stroke-linejoin="round"/></svg>
<div style="position:absolute;left:536px;top:934.5px;width:1364px;height:1.0px;background:#ececec;"></div>
<svg style="position:absolute;left:615.4px;top:951.7px;" width="12" height="20" viewBox="0 0 12 20" fill="none"><path d="M0.8 0.6 L10.4 10 L0.8 19.4" stroke="#1b80d6" stroke-width="1.3"/></svg>
<span class="t" style="left:656.64px;top:954.00px;font-size:18.5px;color:#383838;transform:scaleX(0.9094);">Evie Hanne</span>
<svg style="position:absolute;left:1039.7px;top:949.9000000000001px;" width="23.6" height="23.6" viewBox="0 0 23.6 23.6" fill="none"><circle cx="11.8" cy="11.8" r="10.9" stroke="#333" stroke-width="1.4"/><path d="M7.6 7.6 L16 16 M16 7.6 L7.6 16" stroke="#333" stroke-width="1.4"/></svg>
<span class="t" style="left:1082.20px;top:954.00px;font-size:18.5px;color:#707070;transform:scaleX(0.9322);">Not started</span>
<span class="t" style="left:1327.00px;top:954.00px;font-size:18.5px;color:#707070;transform:scaleX(0.9347);">0%</span>
<svg style="position:absolute;left:1848px;top:952.1px;" width="20" height="20" viewBox="0 0 20 20" fill="none"><path d="M1 19 L2.8 12.8 L13.6 2 A2.55 2.55 0 0 1 17.2 5.6 L6.4 16.4 Z M2.8 12.8 A3.5 3.5 0 0 1 6.4 16.4 M11.8 3.8 L15.4 7.4" stroke="#1b80d6" stroke-width="1.2" stroke-linejoin="round"/></svg>
<div style="position:absolute;left:536px;top:988.0px;width:1364px;height:1.0px;background:#ececec;"></div>
<svg style="position:absolute;left:615.4px;top:1005.2px;" width="12" height="20" viewBox="0 0 12 20" fill="none"><path d="M0.8 0.6 L10.4 10 L0.8 19.4" stroke="#1b80d6" stroke-width="1.3"/></svg>
<span class="t" style="left:657.10px;top:1008.00px;font-size:18.5px;color:#383838;transform:scaleX(0.9002);">Gisela Sherri</span>
<svg style="position:absolute;left:1039.7px;top:1003.4000000000001px;" width="23.6" height="23.6" viewBox="0 0 23.6 23.6" fill="none"><circle cx="11.8" cy="11.8" r="10.9" stroke="#333" stroke-width="1.4"/><path d="M7.6 7.6 L16 16 M16 7.6 L7.6 16" stroke="#333" stroke-width="1.4"/></svg>
<span class="t" style="left:1082.20px;top:1008.00px;font-size:18.5px;color:#707070;transform:scaleX(0.9322);">Not started</span>
<span class="t" style="left:1327.00px;top:1008.00px;font-size:18.5px;color:#707070;transform:scaleX(0.9347);">0%</span>
<svg style="position:absolute;left:1848px;top:1005.6px;" width="20" height="20" viewBox="0 0 20 20" fill="none"><path d="M1 19 L2.8 12.8 L13.6 2 A2.55 2.55 0 0 1 17.2 5.6 L6.4 16.4 Z M2.8 12.8 A3.5 3.5 0 0 1 6.4 16.4 M11.8 3.8 L15.4 7.4" stroke="#1b80d6" stroke-width="1.2" stroke-linejoin="round"/></svg>
<div style="position:absolute;left:536px;top:1041.5px;width:1364px;height:1.0px;background:#ececec;"></div>
<svg style="position:absolute;left:615.4px;top:1058.7px;" width="12" height="20" viewBox="0 0 12 20" fill="none"><path d="M0.8 0.6 L10.4 10 L0.8 19.4" stroke="#1b80d6" stroke-width="1.3"/></svg>
<span class="t" style="left:657.07px;top:1061.00px;font-size:18.5px;color:#383838;transform:scaleX(0.9340);">Grady Archie</span>
<svg style="position:absolute;left:1039.7px;top:1056.9px;" width="23.6" height="23.6" viewBox="0 0 23.6 23.6" fill="none"><circle cx="11.8" cy="11.8" r="10.9" stroke="#1b80d6" stroke-width="1.4"/><path d="M11.4 4.8 V13.2 H16" stroke="#1b80d6" stroke-width="1.4"/></svg>
<span class="t" style="left:1081.85px;top:1061.00px;font-size:18.5px;color:#4596df;transform:scaleX(0.8856);">In progress</span>
<span class="t" style="left:1326.76px;top:1061.00px;font-size:18.5px;color:#707070;transform:scaleX(0.9362);">60%</span>
<span class="t" style="left:1423.03px;top:1061.00px;font-size:18.5px;color:#707070;transform:scaleX(0.9156);">100%</span>
<svg style="position:absolute;left:1722.2px;top:1061.1000000000001px;" width="15" height="15" viewBox="0 0 15 15" fill="none"><path d="M0.5 0.5 L14.5 14.5 M14.5 0.5 L0.5 14.5" stroke="#e9683a" stroke-width="1.25"/></svg>
<svg style="position:absolute;left:1848px;top:1059.1000000000001px;" width="20" height="20" viewBox="0 0 20 20" fill="none"><path d="M1 19 L2.8 12.8 L13.6 2 A2.55 2.55 0 0 1 17.2 5.6 L6.4 16.4 Z M2.8 12.8 A3.5 3.5 0 0 1 6.4 16.4 M11.8 3.8 L15.4 7.4" stroke="#1b80d6" stroke-width="1.2" stroke-linejoin="round"/></svg>
<div style="position:absolute;left:1900px;top:721.5px;width:21px;height:359.5px;background:#f1f1f1;"></div>
<div style="position:absolute;left:1902px;top:743px;width:17px;height:118px;background:#c1c1c1;"></div>
<svg style="position:absolute;left:1905.4px;top:730.8px;" width="10" height="6" viewBox="0 0 10 6" fill="none"><path d="M0 5.5 L5 0.5 L10 5.5Z" fill="#a3a3a3"/></svg>
<svg style="position:absolute;left:1905.4px;top:1066.6px;" width="10" height="6" viewBox="0 0 10 6" fill="none"><path d="M0 0.5 L5 5.5 L10 0.5Z" fill="#505050"/></svg>
</section>
</body></html>
